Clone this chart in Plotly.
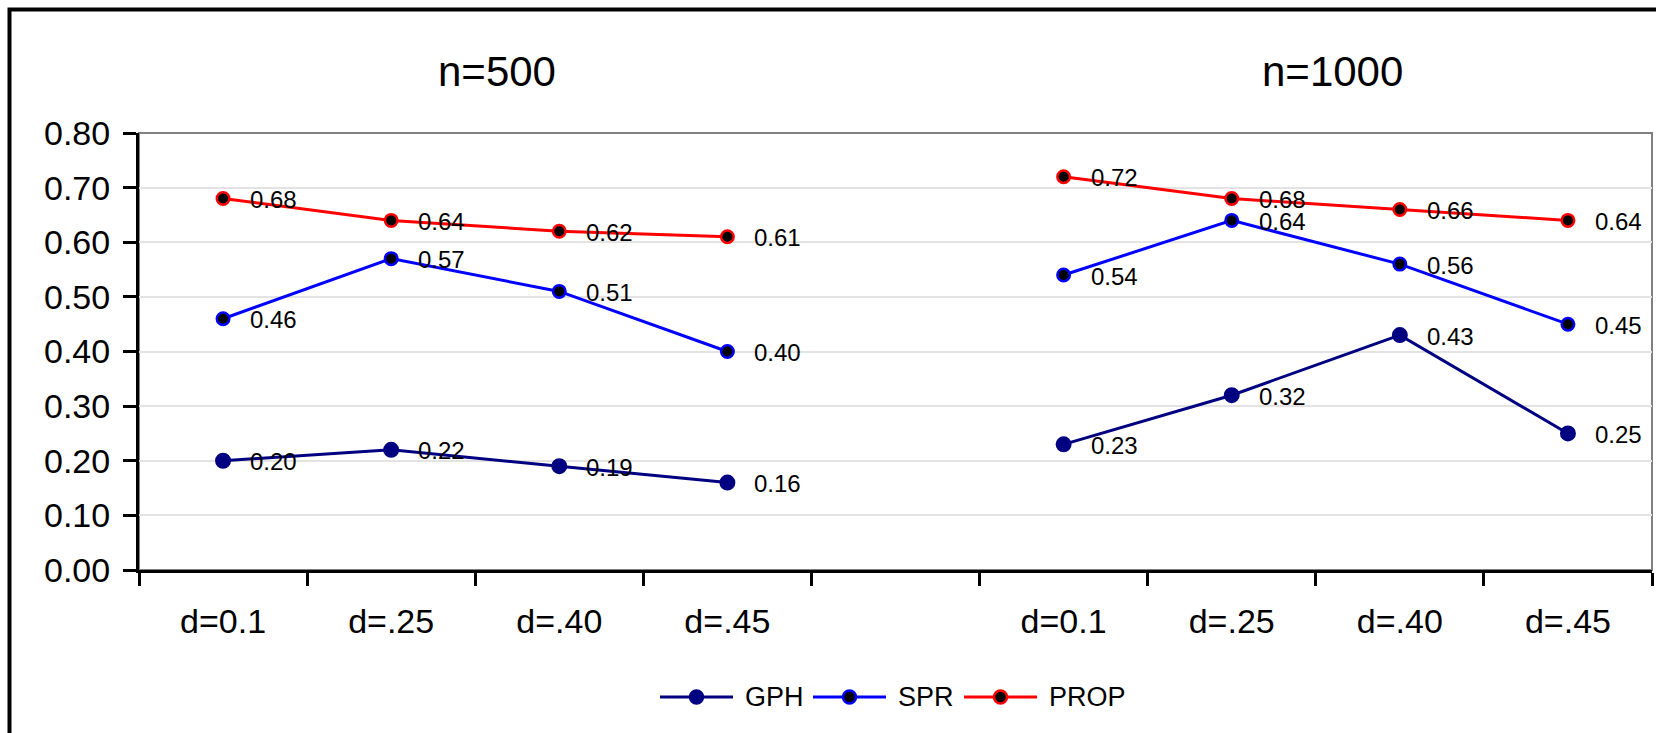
import plotly.graph_objects as go

# Category labels along the x axis (blank slot separates the two sample sizes)
categories = ["d=0.1", "d=.25", "d=.40", "d=.45", "", "d=0.1", "d=.25", "d=.40", "d=.45"]
group_titles = ["n=500", "n=1000"]

# Estimates per method; None marks the gap between the two groups
gph = [0.20, 0.22, 0.19, 0.16, None, 0.23, 0.32, 0.43, 0.25]
spr = [0.46, 0.57, 0.51, 0.40, None, 0.54, 0.64, 0.56, 0.45]
prop = [0.68, 0.64, 0.62, 0.61, None, 0.72, 0.68, 0.66, 0.64]

y_ticks = [0.0, 0.1, 0.2, 0.3, 0.4, 0.5, 0.6, 0.7, 0.8]

FONT = "Arial, Liberation Sans, sans-serif"
W, H = 1656, 733
M_L, M_R, M_T, M_B = 139, 4, 133, 163
PLOT_W = W - M_L - M_R
PLOT_H = H - M_T - M_B


def px_to_paper_x(px):
    return (px - M_L) / PLOT_W


def px_to_paper_y(py):
    return (H - M_B - py) / PLOT_H


xs = list(range(len(categories)))

# name, values, line colour, marker fill, marker edge, marker size
series = [
    ("GPH", gph, "#000080", "#000080", "#000080", 13.5),
    ("SPR", spr, "#0000FF", "#000000", "#0000FF", 12.5),
    ("PROP", prop, "#FF0000", "#000000", "#FF0000", 12.5),
]

fig = go.Figure()
annotations = []
shapes = [
    # gray plot-area border (top and right)
    dict(type="rect", xref="paper", yref="paper", x0=0, x1=1, y0=0, y1=1,
         line=dict(color="#808080", width=2), layer="below"),
    # outer chart frame
    dict(type="rect", xref="paper", yref="paper",
         x0=px_to_paper_x(9.5), x1=1.2, y0=-0.6, y1=px_to_paper_y(9.5),
         line=dict(color="#000000", width=4), layer="above"),
]

for name, vals, line_col, fill_col, edge_col, msize in series:
    fig.add_trace(go.Scatter(
        x=xs, y=vals, name=name, mode="lines+markers",
        connectgaps=False, showlegend=False,
        line=dict(color=line_col, width=3),
        marker=dict(size=msize, color=fill_col, line=dict(color=edge_col, width=2.5)),
        hoverinfo="skip",
    ))
    for xi, v in zip(xs, vals):
        if v is None:
            continue
        annotations.append(dict(
            x=xi, y=v, xref="x", yref="y", text=f"{v:.2f}",
            showarrow=False, xanchor="left", yanchor="middle",
            xshift=25, yshift=-1,
            font=dict(family=FONT, size=24, color="#000000"),
        ))

# Group titles above each block of categories
for title, xpos in zip(group_titles, [0.2366, 0.789]):
    annotations.append(dict(
        x=xpos, y=1, xref="paper", yref="paper", text=title,
        showarrow=False, xanchor="center", yanchor="middle", yshift=62,
        font=dict(family=FONT, size=42, color="#000000"),
    ))

# Legend below the axis: line sample with marker, then the series name
legend_y = px_to_paper_y(697)
legend_starts = [660, 813, 964]
LINE_LEN, TEXT_GAP = 73, 10
for (name, _, line_col, fill_col, edge_col, _), x0 in zip(series, legend_starts):
    shapes.append(dict(
        type="line", xref="paper", yref="paper",
        x0=px_to_paper_x(x0), x1=px_to_paper_x(x0 + LINE_LEN),
        y0=legend_y, y1=legend_y, line=dict(color=line_col, width=3),
    ))
    r = 6.5
    shapes.append(dict(
        type="circle", xref="paper", yref="paper",
        xsizemode="pixel", ysizemode="pixel",
        xanchor=px_to_paper_x(x0 + LINE_LEN / 2), yanchor=legend_y,
        x0=-r, x1=r, y0=-r, y1=r,
        fillcolor=fill_col, line=dict(color=edge_col, width=2.5),
    ))
    annotations.append(dict(
        x=px_to_paper_x(x0 + LINE_LEN + TEXT_GAP), y=legend_y,
        xref="paper", yref="paper", text=name, showarrow=False,
        xanchor="left", yanchor="middle",
        font=dict(family=FONT, size=27, color="#000000"),
    ))

boundaries = [i - 0.5 for i in range(len(categories) + 1)]

fig.update_layout(
    width=W, height=H,
    margin=dict(l=M_L, r=M_R, t=M_T, b=M_B),
    paper_bgcolor="#FFFFFF", plot_bgcolor="#FFFFFF",
    font=dict(family=FONT, color="#000000"),
    showlegend=False,
    annotations=annotations,
    shapes=shapes,
)

fig.update_xaxes(
    range=[-0.5, len(categories) - 0.5],
    tickmode="array", tickvals=xs, ticktext=categories,
    ticks="", showgrid=False, zeroline=False,
    showline=True, linecolor="#000000", linewidth=3,
    ticklabelstandoff=19,
    tickfont=dict(family=FONT, size=34, color="#000000"),
    minor=dict(tickmode="array", tickvals=boundaries, ticks="outside",
               ticklen=13, tickwidth=2.5, tickcolor="#000000", showgrid=False),
)

fig.update_yaxes(
    range=[0, 0.8],
    tickmode="array", tickvals=y_ticks, tickformat=".2f",
    ticks="outside", ticklen=13, tickwidth=2.5, tickcolor="#000000",
    showgrid=True, gridcolor="#E3E3E3", gridwidth=1.5,
    zeroline=False,
    showline=True, linecolor="#000000", linewidth=3,
    ticklabelstandoff=6,
    tickfont=dict(family=FONT, size=34, color="#000000"),
)

fig.write_html("out.html")
